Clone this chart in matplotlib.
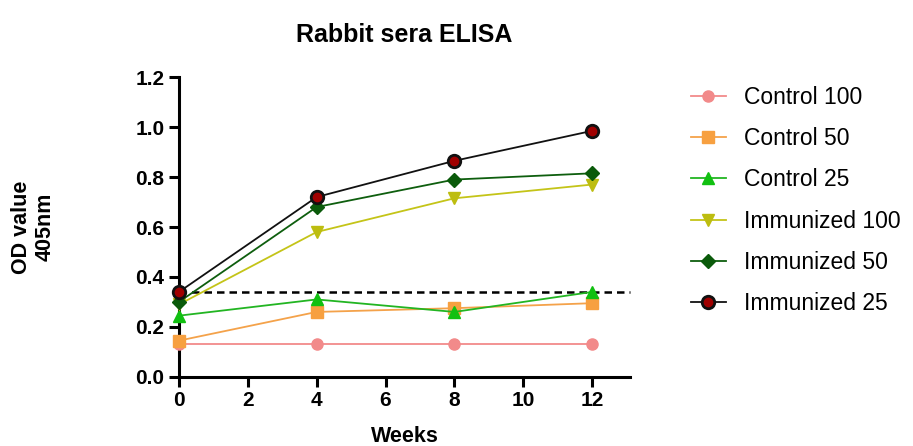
import matplotlib
matplotlib.use("Agg")
import matplotlib.pyplot as plt

weeks = [0, 4, 8, 12]
control_100 = [0.13, 0.13, 0.13, 0.13]
control_50 = [0.145, 0.26, 0.275, 0.295]
control_25 = [0.245, 0.31, 0.26, 0.34]
immunized_100 = [0.29, 0.58, 0.715, 0.77]
immunized_50 = [0.30, 0.68, 0.79, 0.815]
immunized_25 = [0.34, 0.72, 0.865, 0.985]
cutoff = 0.34
labels = ["Control 100", "Control 50", "Control 25",
          "Immunized 100", "Immunized 50", "Immunized 25"]

plt.rcParams['font.family'] = ['Liberation Sans', 'DejaVu Sans']

fig = plt.figure(figsize=(9.13, 4.46), dpi=100)
ax = fig.add_axes([0.196, 0.155, 0.494, 0.672])

styles = [
    dict(color='#F28A8A', marker='o', mfc='#F28A8A', mec='#F28A8A', ms=8),
    dict(color='#F4A24A', marker='s', mfc='#F7A040', mec='#F7A040', ms=8),
    dict(color='#22B522', marker='^', mfc='#11C011', mec='#11C011', ms=9),
    dict(color='#C4C418', marker='v', mfc='#BDBD10', mec='#BDBD10', ms=9),
    dict(color='#0E5E0E', marker='D', mfc='#0A5A0A', mec='#0A5A0A', ms=7.5),
    dict(color='#111111', marker='o', mfc='#A00000', mec='#111111', ms=9, mew=2),
]
series = [control_100, control_50, control_25, immunized_100, immunized_50, immunized_25]
for s, lab, st in zip(series, labels, styles):
    ax.plot(weeks, s, label=lab, lw=1.3, clip_on=False, zorder=3, **st)

ax.axhline(cutoff, color='black', ls=(0, (3, 2)), lw=1.8, zorder=2, clip_on=False)

ax.set_xlim(0, 13.1)
ax.set_ylim(0, 1.2)
ax.set_xticks([0, 2, 4, 6, 8, 10, 12])
ax.set_yticks([0.0, 0.2, 0.4, 0.6, 0.8, 1.0, 1.2])
ax.set_yticklabels(['0.0', '0.2', '0.4', '0.6', '0.8', '1.0', '1.2'])
for sp in ['top', 'right']:
    ax.spines[sp].set_visible(False)
for sp in ['left', 'bottom']:
    ax.spines[sp].set_linewidth(2.2)
ax.tick_params(width=2.2, length=7, labelsize=15)
for t in ax.get_xticklabels() + ax.get_yticklabels():
    t.set_fontweight('bold')

ax.set_xlabel('Weeks', fontsize=15.5, fontweight='bold', labelpad=11)
ax.set_ylabel('OD value\n405nm', fontsize=15.5, fontweight='bold', labelpad=57)
ax.set_title('Rabbit sera ELISA', fontsize=18, fontweight='bold', pad=25, x=0.5)

leg = ax.legend(loc='upper left', bbox_to_anchor=(1.09, 1.04), frameon=False,
                fontsize=16.5, handlelength=1.5, labelspacing=0.8, handletextpad=0.8)

fig.savefig('out.png', dpi=100)
